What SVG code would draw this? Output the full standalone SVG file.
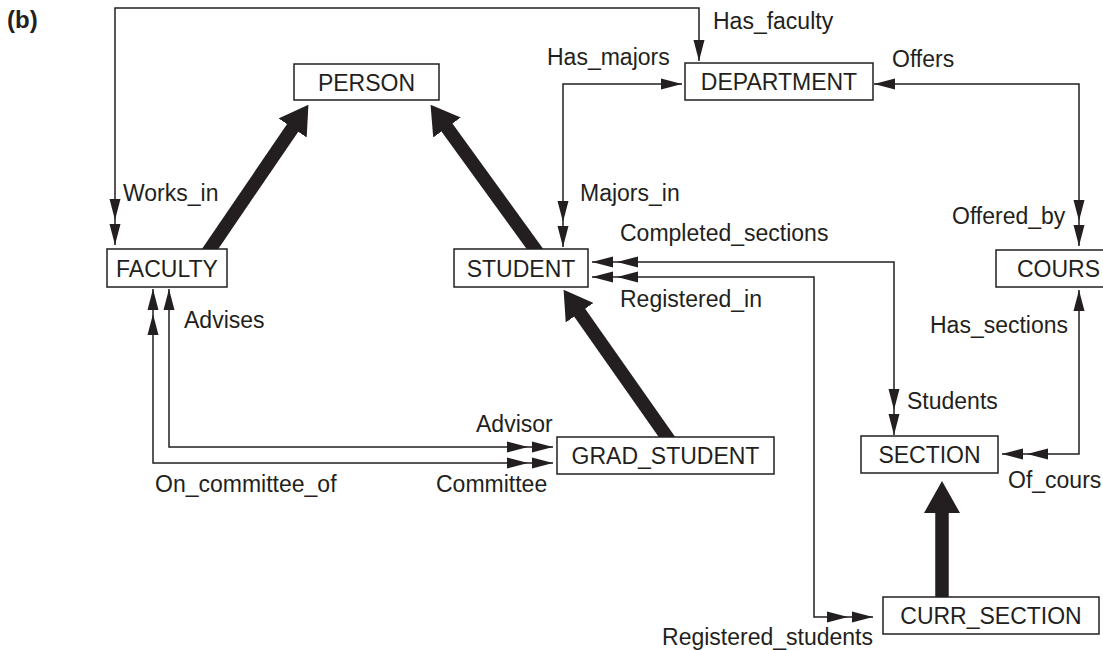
<svg xmlns="http://www.w3.org/2000/svg" width="1103" height="650" viewBox="0 0 1103 650">
<style>
.box{fill:#fff;stroke:#231f20;stroke-width:1.5}
.nt{font-family:"Liberation Sans",Arial,sans-serif;font-size:23px;fill:#231f20;text-anchor:middle}
.lb{font-family:"Liberation Sans",Arial,sans-serif;font-size:23px;fill:#231f20}
.ln{fill:none;stroke:#231f20;stroke-width:1.5}
.thick{fill:none;stroke:#231f20;stroke-width:13.5}
</style>
<defs>
<marker id="a1" markerUnits="userSpaceOnUse" viewBox="0 0 21 12" markerWidth="21" markerHeight="12" refX="21" refY="6" orient="auto-start-reverse"><path d="M0,0.5 L21,6 L0,11.5 Z" fill="#231f20"/></marker>
<marker id="a2" markerUnits="userSpaceOnUse" viewBox="0 0 46 12" markerWidth="46" markerHeight="12" refX="46" refY="6" orient="auto-start-reverse"><path d="M0,0.5 L21,6 L0,11.5 Z M25,0.5 L46,6 L25,11.5 Z" fill="#231f20"/></marker>
<marker id="ah" markerUnits="userSpaceOnUse" viewBox="0 0 28 34" markerWidth="28" markerHeight="34" refX="1" refY="17" orient="auto"><path d="M0,0 L28,17 L0,34 Z" fill="#231f20"/></marker>
<marker id="av" markerUnits="userSpaceOnUse" viewBox="0 0 32 36" markerWidth="32" markerHeight="36" refX="1" refY="18" orient="auto"><path d="M0,0 L32,18 L0,36 Z" fill="#231f20"/></marker>
</defs>
<text x="7" y="28" font-family="Liberation Sans,Arial,sans-serif" font-size="24" font-weight="bold" fill="#231f20">(b)</text>
<g id="connectors">
<path class="ln" d="M699,61 V8 H115 V245" marker-start="url(#a1)" marker-end="url(#a2)"/>
<path class="ln" d="M682,84 H563 V247" marker-start="url(#a1)" marker-end="url(#a2)"/>
<path class="ln" d="M874,84 H1079 V246" marker-start="url(#a1)" marker-end="url(#a2)"/>
<path class="ln" d="M1079,290 V454 H1002" marker-start="url(#a1)" marker-end="url(#a2)"/>
<path class="ln" d="M592,262 H894 V435" marker-start="url(#a2)" marker-end="url(#a2)"/>
<path class="ln" d="M592,277 H814 V617 H873" marker-start="url(#a2)" marker-end="url(#a2)"/>
<path class="ln" d="M169,289 V447 H553" marker-start="url(#a1)" marker-end="url(#a2)"/>
<path class="ln" d="M153,289 V463 H553" marker-start="url(#a2)" marker-end="url(#a2)"/>
<line class="thick" x1="204.4" y1="257.3" x2="293.2" y2="127.1" marker-end="url(#ah)"/>
<line class="thick" x1="540.9" y1="257.1" x2="446.4" y2="126.7" marker-end="url(#ah)"/>
<line class="thick" x1="672.7" y1="445.2" x2="579.1" y2="311.9" marker-end="url(#ah)"/>
<line class="thick" x1="942" y1="605" x2="942" y2="512" marker-end="url(#av)"/>
<text class="lb" x="713" y="29">Has_faculty</text>
<text class="lb" x="547" y="65">Has_majors</text>
<text class="lb" x="892" y="67">Offers</text>
<text class="lb" x="123" y="201">Works_in</text>
<text class="lb" x="580" y="201">Majors_in</text>
<text class="lb" x="952" y="224">Offered_by</text>
<text class="lb" x="620" y="241">Completed_sections</text>
<text class="lb" x="620" y="307">Registered_in</text>
<text class="lb" x="930" y="333">Has_sections</text>
<text class="lb" x="184" y="328">Advises</text>
<text class="lb" x="907" y="409">Students</text>
<text class="lb" x="476" y="432">Advisor</text>
<text class="lb" x="1008" y="488">Of_cours</text>
<text class="lb" x="155" y="492">On_committee_of</text>
<text class="lb" x="436" y="492">Committee</text>
<text class="lb" x="873" y="645" text-anchor="end">Registered_students</text>
</g>
<g id="person"><rect class="box" x="294" y="64" width="145" height="36"/><text class="nt" x="366.5" y="90.5">PERSON</text></g>
<g id="department"><rect class="box" x="685" y="63" width="188" height="37"/><text class="nt" x="779" y="90">DEPARTMENT</text></g>
<g id="faculty"><rect class="box" x="107" y="249" width="120" height="38"/><text class="nt" x="167" y="276.5">FACULTY</text></g>
<g id="student"><rect class="box" x="454" y="249" width="134" height="38"/><text class="nt" x="521" y="276.5">STUDENT</text></g>
<g id="course"><rect class="box" x="996" y="250" width="140" height="37"/><text class="lb" x="1017" y="276.5">COURS</text></g>
<g id="grad_student"><rect class="box" x="557" y="437" width="217" height="37"/><text class="nt" x="665.5" y="464">GRAD_STUDENT</text></g>
<g id="section"><rect class="box" x="861" y="436" width="137" height="37"/><text class="nt" x="929.5" y="463">SECTION</text></g>
<g id="curr_section"><rect class="box" x="883" y="597" width="216" height="37"/><text class="nt" x="991" y="624">CURR_SECTION</text></g>
</svg>
